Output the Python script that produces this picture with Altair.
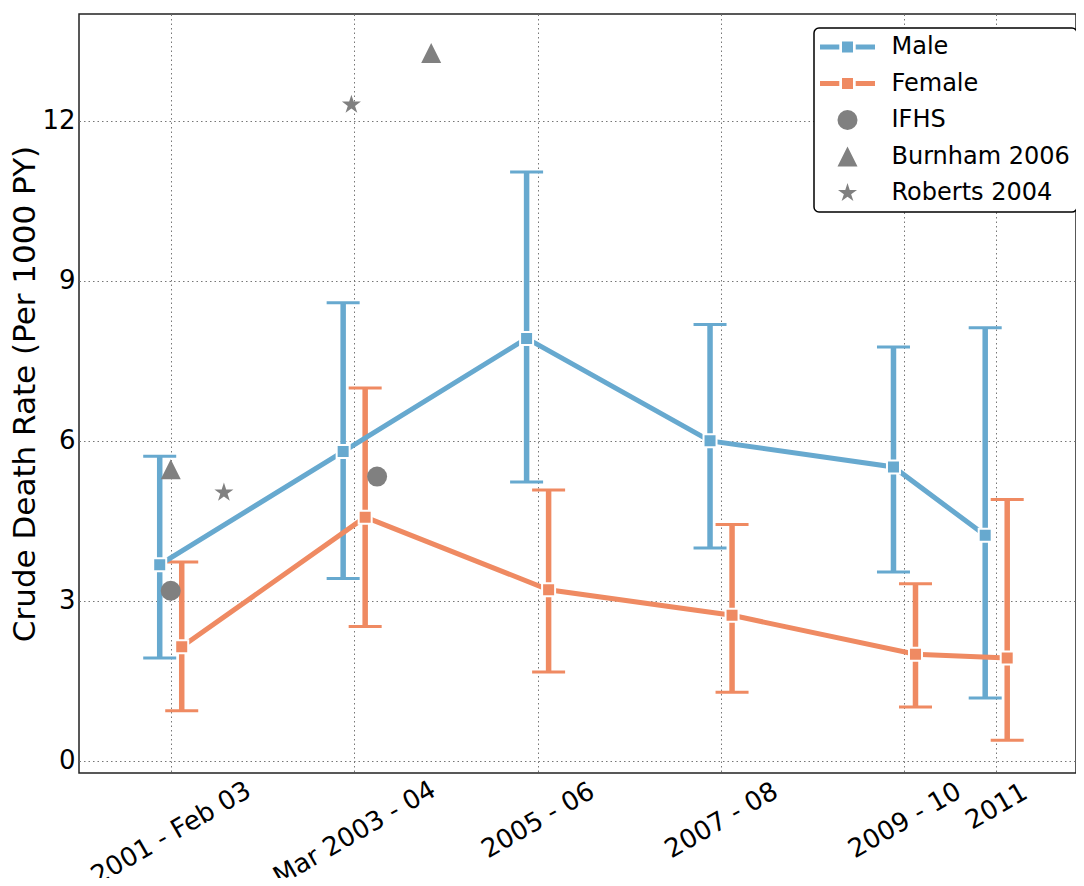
import altair as alt
import pandas as pd

# ---- data ----
periods = [2002, 2004, 2006, 2008, 2010, 2011]
period_labels = ["2001 - Feb 03", "Mar 2003 - 04", "2005 - 06", "2007 - 08", "2009 - 10", "2011"]

male_rate = [3.68, 5.80, 7.92, 6.00, 5.51, 4.23]
male_low = [1.93, 3.42, 5.23, 3.99, 3.54, 1.18]
male_high = [5.71, 8.59, 11.04, 8.18, 7.76, 8.12]

female_rate = [2.14, 4.57, 3.21, 2.73, 2.00, 1.93]
female_low = [0.94, 2.52, 1.67, 1.29, 1.01, 0.39]
female_high = [3.73, 6.99, 5.08, 4.43, 3.32, 4.90]

ref_series = ["IFHS", "IFHS", "Burnham 2006", "Burnham 2006", "Roberts 2004", "Roberts 2004"]
ref_x = [2002.0, 2004.25, 2002.0, 2004.84, 2002.58, 2003.97]
ref_rate = [3.19, 5.33, 5.47, 13.27, 5.03, 12.30]

series_names = ["Male", "Female", "IFHS", "Burnham 2006", "Roberts 2004"]
series_colors = ["#67a9cf", "#ef8a62", "#808080", "#808080", "#808080"]

# ---- tables ----
rows = []
for name, rate, lo, hi in [("Male", male_rate, male_low, male_high),
                           ("Female", female_rate, female_low, female_high)]:
    for p, r, l, h in zip(periods, rate, lo, hi):
        rows.append({"series": name, "period": p, "rate": r, "low": l, "high": h})
sex_df = pd.DataFrame(rows)
ref_df = pd.DataFrame({"series": ref_series, "x": ref_x, "rate": ref_rate})

# ---- shapes ----
line_sq = ("M-2.75,-0.25H-0.82V0.25H-2.75Z "
           "M-0.55,-0.55H0.55V0.55H-0.55Z "
           "M0.82,-0.25H2.75V0.25H0.82Z")
tri = "M0,-1L1,1L-1,1Z"
star = ("M0,-1L0.2245,-0.309L0.9511,-0.309L0.3633,0.118L0.5878,0.809L0,0.382"
        "L-0.5878,0.809L-0.3633,0.118L-0.9511,-0.309L-0.2245,-0.309Z")

color_scale = alt.Scale(domain=series_names, range=series_colors)
shape_scale = alt.Scale(domain=series_names, range=[line_sq, line_sq, "circle", tri, star])
size_scale = alt.Scale(domain=series_names, range=[400, 400, 400, 361, 250])

FONT = "DejaVu Sans"

label_expr = ""
for p, lab in zip(periods, period_labels):
    label_expr += f"datum.value == {p} ? '{lab}' : "
label_expr += "''"

x_scale = alt.Scale(domain=[2001, 2011.87], nice=False, zero=False)
y_scale = alt.Scale(domain=[-0.225, 14], nice=False, zero=False)

x_axis = alt.Axis(
    values=periods, labelExpr=label_expr, title=None,
    labelAngle=-30, labelAlign="center", labelBaseline="middle",
    labelFontSize=26, labelFont=FONT, labelColor="black", labelLimit=400,
    labelPadding={"condition": [{"test": "datum.value == 2011", "value": 33},
                                {"test": "datum.value >= 2006", "value": 47}],
                  "value": 60},
    ticks=False, domain=False, grid=True, labelOverlap=False, labelFlush=False,
)
y_axis = alt.Axis(
    values=[0, 3, 6, 9, 12], title="Crude Death Rate (Per 1000 PY)",
    titleFontSize=31, titleFont=FONT, titleFontWeight="normal", titleColor="black",
    titlePadding=0,
    labelFontSize=26, labelFont=FONT, labelColor="black", labelPadding=4,
    ticks=False, domain=False, grid=True,
)

base = alt.Chart(sex_df).transform_calculate(
    xd="datum.period + (datum.series == 'Male' ? -0.12 : 0.12)"
)

X = alt.X("xd:Q", scale=x_scale, axis=x_axis)
C = alt.Color("series:N", scale=color_scale, legend=None)

bars = base.mark_rule(strokeWidth=5.5).encode(
    x=X, y=alt.Y("low:Q", scale=y_scale, axis=y_axis), y2="high:Q", color=C
)
cap_lo = base.mark_tick(orient="horizontal", size=33, thickness=3, opacity=1).encode(
    x=X, y=alt.Y("low:Q", scale=y_scale), color=C
)
cap_hi = base.mark_tick(orient="horizontal", size=33, thickness=3, opacity=1).encode(
    x=X, y=alt.Y("high:Q", scale=y_scale), color=C
)
lines = base.mark_line(strokeWidth=5).encode(
    x=X, y=alt.Y("rate:Q", scale=y_scale), color=C, detail="series:N"
)
squares = base.mark_square(size=169, stroke="white", strokeWidth=2, opacity=1).encode(
    x=X, y=alt.Y("rate:Q", scale=y_scale), color=C
)

legend = alt.Legend(
    title=None, orient="none", legendX=735, legendY=14,
    labelFont=FONT, labelFontSize=24, labelColor="black", labelLimit=0,
    symbolOffset=14.5, labelOffset=32, rowPadding=12.5,
    symbolStrokeWidth=0, symbolOpacity=1,
)
refs = alt.Chart(ref_df).mark_point(filled=True, opacity=1, strokeWidth=0).encode(
    x=alt.X("x:Q", scale=x_scale),
    y=alt.Y("rate:Q", scale=y_scale),
    color=alt.Color("series:N", scale=color_scale, legend=legend),
    shape=alt.Shape("series:N", scale=shape_scale, legend=legend),
    size=alt.Size("series:N", scale=size_scale, legend=legend),
)

chart = alt.layer(bars, cap_lo, cap_hi, lines, squares, refs).resolve_legend(
    color="independent", shape="independent", size="independent"
).properties(
    width=997, height=759,
    autosize=alt.AutoSizeParams(type="none"),
    padding={"left": 71, "top": 6, "right": 0, "bottom": 105},
).configure_view(
    stroke="#222", strokeWidth=1.5
).configure_axis(
    gridColor="#777", gridDash=[1.5, 3], gridWidth=1, gridOpacity=1,
).configure_legend(
    strokeColor="black", strokeWidth=1.5, cornerRadius=5, padding=7, fillColor="white",
)

chart.save("out.html", embed_options={"renderer": "svg", "actions": False})
